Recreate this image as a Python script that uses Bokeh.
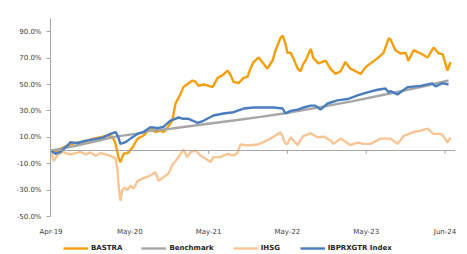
from bokeh.plotting import figure
from bokeh.layouts import column
from bokeh.models import Range1d, FixedTicker, PrintfTickFormatter, Span, Legend, LegendItem
from bokeh.embed import file_html
from bokeh.resources import INLINE

# ---- data (x: period index, ticks every 20 units; y: cumulative return %) ----
x_ticks = [0, 20, 40, 60, 80, 100]
x_labels = ["Apr-19", "May-20", "May-21", "May-22", "May-23", "Jun-24"]
y_ticks = [-50, -30, -10, 10, 30, 50, 70, 90]
series_names = ["BASTRA", "Benchmark", "IHSG", "IBPRXGTR Index"]
series_colors = ["#F59E0B", "#A6A6A6", "#F9C595", "#4A7DBF"]

bastra_x = [0, 1.1, 2.4, 4.2, 5.5, 7.0, 8.2, 9.5, 10.8, 12.6, 14.3, 15.6, 16.4, 17.1, 17.6, 18.4, 19.4, 20.7, 22.0, 23.5,
            25.2, 26.5, 27.8, 28.6, 29.6, 30.8, 31.6, 32.9, 33.6, 34.9, 35.9, 36.7, 37.4, 38.7, 40.0, 41.0, 42.3, 43.5, 44.8, 45.6,
            46.3, 47.6, 48.9, 49.9, 50.6, 51.4, 52.7, 53.9, 54.9, 56.2, 57.0, 58.3, 58.8, 59.5, 60.0, 60.8, 61.5, 62.6, 63.3, 64.1,
            64.6, 65.9, 66.6, 67.9, 69.7, 70.9, 72.2, 73.5, 74.7, 76.0, 77.3, 78.6, 79.8, 81.1, 82.9, 84.4, 85.7, 86.2, 87.4, 88.7,
            90.0, 90.7, 92.0, 93.8, 95.6, 97.1, 98.4, 99.4, 100.1, 100.6, 101.4]
bastra_y = [0, -1.5, 1.5, 3.8, 5, 6.3, 6, 7.6, 9, 10, 11.4, 10.5, 5, -5, -9, -2.5, -2, 2.5, 9, 11.4,
            17.5, 14, 15, 14, 17.5, 22.7, 35.6, 43, 48, 51, 53, 52, 49, 50, 49, 48, 55, 57, 60.6, 57,
            52, 51, 55, 56, 62, 67, 70.5, 66, 62, 68, 76, 85.6, 87, 81, 74, 74, 70, 62, 60, 66,
            68, 77, 70, 66, 68, 62, 58, 60, 67, 62, 60, 58, 63, 66, 70, 74, 85, 84, 76, 73.5,
            74, 68, 76, 73.5, 70.5, 78, 73.5, 73, 66, 60.6, 67]

bench_x = [0, 2.4, 6.2, 11.3, 16.4, 21.4, 25.2, 30.3, 37.9, 46.3, 53.2, 59.0, 67.6, 76.0, 85.7, 93.8, 100.9]
bench_y = [0, 1.2, 3.5, 7, 10.5, 12.6, 15, 16.5, 19.5, 22.7, 25.5, 28, 32.5, 37, 43, 48, 53]

ihsg_x = [0, 0.6, 1.6, 2.9, 3.7, 4.9, 6.2, 7.5, 8.8, 10.0, 11.3, 12.6, 13.8, 15.1, 16.4, 16.9, 17.1, 17.6, 18.1, 18.7,
          19.4, 20.2, 20.9, 22.0, 23.5, 25.2, 26.5, 27.3, 28.6, 29.8, 30.8, 32.1, 32.9, 33.6, 34.6, 35.4, 36.7, 37.9, 39.2, 40.5,
          41.2, 43.0, 44.8, 46.3, 47.3, 48.1, 49.4, 50.6, 52.4, 53.9, 55.7, 57.0, 58.3, 59.5, 60.0, 60.8, 62.6, 63.3, 64.1, 65.9,
          67.6, 69.2, 70.9, 71.7, 73.5, 76.0, 77.8, 79.3, 81.1, 83.6, 86.2, 87.9, 89.5, 92.0, 93.8, 95.6, 97.1, 98.9, 99.6, 100.6,
          101.4]
ihsg_y = [0, -8, -4, -1, -2, -3, -2, -1, -3, -1.5, -4, -2, -3, -4, -6, -15, -25, -38, -30, -28,
          -30, -26.5, -29, -23, -21, -19, -16.5, -23, -20, -17.7, -11, -6, -2.5, 0.8, -5, -1.3, 0, -3.8, -6, -8.8,
          -5, -5, -2.5, -3.8, -2, 4.5, 4, 4, 4.5, 6.3, 9, 11.4, 13.9, 5, 5, 10, 4, 8, 11, 13,
          10, 10.5, 7.6, 5, 9, 4, 6, 5, 5, 9, 9, 5, 11, 14, 15, 16.5, 12.6, 12.6, 11, 6,
          10]

ibpr_x = [0, 1.1, 2.4, 4.2, 4.9, 6.7, 8.2, 10.0, 11.8, 13.3, 15.1, 16.4, 17.1, 17.6, 18.9, 20.2, 22.0, 23.5, 25.2, 27.0,
          28.6, 30.3, 32.4, 33.6, 34.9, 37.2, 38.7, 41.2, 43.8, 46.3, 48.9, 51.4, 53.9, 56.5, 58.8, 59.5, 60.8, 62.6, 64.1, 65.9,
          67.1, 68.4, 70.2, 72.7, 75.3, 77.8, 80.3, 82.9, 84.9, 85.7, 86.2, 87.9, 90.5, 93.8, 96.8, 97.6, 99.4, 100.9]
ibpr_y = [0, -2.5, -1, 3.8, 6.3, 5.5, 7, 8, 9, 10, 12.6, 14, 10, 5, 6.3, 9, 12.6, 14, 17.7, 17,
          18, 22.7, 25, 24, 24, 21, 22.5, 26.5, 28, 29, 31.8, 32.6, 32.6, 32.6, 31.8, 28, 30, 31, 32.6, 34,
          34, 31, 35.6, 38, 39, 41.7, 44, 46, 47, 44, 45, 42.4, 48, 49, 50.8, 48.5, 51, 50]

FONT = "DejaVu Sans"
AXIS_GRAY = "#A6A6A6"
LW = 2.4

p = figure(width=467, height=238, output_backend="svg", toolbar_location=None,
           x_range=Range1d(-0.13, 102.66), y_range=Range1d(-50, 100),
           min_border_left=50, min_border_right=12, min_border_top=18, min_border_bottom=22)
p.xgrid.visible = False
p.ygrid.visible = False
p.outline_line_color = None
p.background_fill_color = "white"
p.border_fill_color = "white"

# y axis
p.yaxis.ticker = FixedTicker(ticks=y_ticks)
p.yaxis.formatter = PrintfTickFormatter(format="%.1f%%")
p.yaxis.axis_line_color = AXIS_GRAY
p.yaxis.major_tick_line_color = AXIS_GRAY
p.yaxis.major_tick_out = 4
p.yaxis.major_tick_in = 0
p.yaxis.minor_tick_line_color = None
p.yaxis.major_label_text_font = FONT
p.yaxis.major_label_text_font_size = "7px"
p.yaxis.major_label_text_color = "#404040"
p.yaxis.major_label_standoff = 5

# x axis (labels only at bottom)
p.xaxis.ticker = FixedTicker(ticks=x_ticks)
p.xaxis.major_label_overrides = {t: l for t, l in zip(x_ticks, x_labels)}
p.xaxis.axis_line_color = None
p.xaxis.major_tick_line_color = None
p.xaxis.major_tick_out = 0
p.xaxis.major_tick_in = 0
p.xaxis.minor_tick_line_color = None
p.xaxis.minor_tick_out = 0
p.xaxis.major_label_text_font = FONT
p.xaxis.major_label_text_font_size = "7px"
p.xaxis.major_label_text_color = "#404040"
p.xaxis.major_label_standoff = 11

# zero line with ticks
p.add_layout(Span(location=0, dimension="width", line_color=AXIS_GRAY, line_width=1))
p.segment(x0=x_ticks, y0=[0] * len(x_ticks), x1=x_ticks, y1=[-2.5] * len(x_ticks),
          line_color=AXIS_GRAY, line_width=1)

p.line(bastra_x, bastra_y, line_color=series_colors[0], line_width=LW)
p.line(bench_x, bench_y, line_color=series_colors[1], line_width=LW)
p.line(ihsg_x, ihsg_y, line_color=series_colors[2], line_width=LW)
p.line(ibpr_x, ibpr_y, line_color=series_colors[3], line_width=LW)

# legend strip under the chart (frame is aligned with the chart frame)
lg = figure(width=467, height=16, output_backend="svg", toolbar_location=None,
            x_axis_location=None, y_axis_location=None,
            x_range=Range1d(0, 1), y_range=Range1d(0, 1),
            min_border_left=50, min_border_right=12, min_border_top=0, min_border_bottom=0)
lg.xgrid.visible = False
lg.ygrid.visible = False
lg.outline_line_color = None
items = []
for name, col in zip(series_names, series_colors):
    r = lg.line([-1], [-1], line_color=col, line_width=LW)  # single off-range point: legend swatch only
    items.append(LegendItem(label=name, renderers=[r]))
legend = Legend(items=items, orientation="horizontal", location=(13, 1),
                glyph_width=25, glyph_height=10, label_standoff=3, spacing=19,
                padding=0, margin=0, border_line_color=None, background_fill_alpha=0,
                label_text_font=FONT, label_text_font_size="7px", label_text_font_style="bold",
                label_text_color="#262626", label_height=10)
lg.add_layout(legend, "center")

layout = column(p, lg, spacing=0)
open("out.html", "w").write(file_html(layout, INLINE))
